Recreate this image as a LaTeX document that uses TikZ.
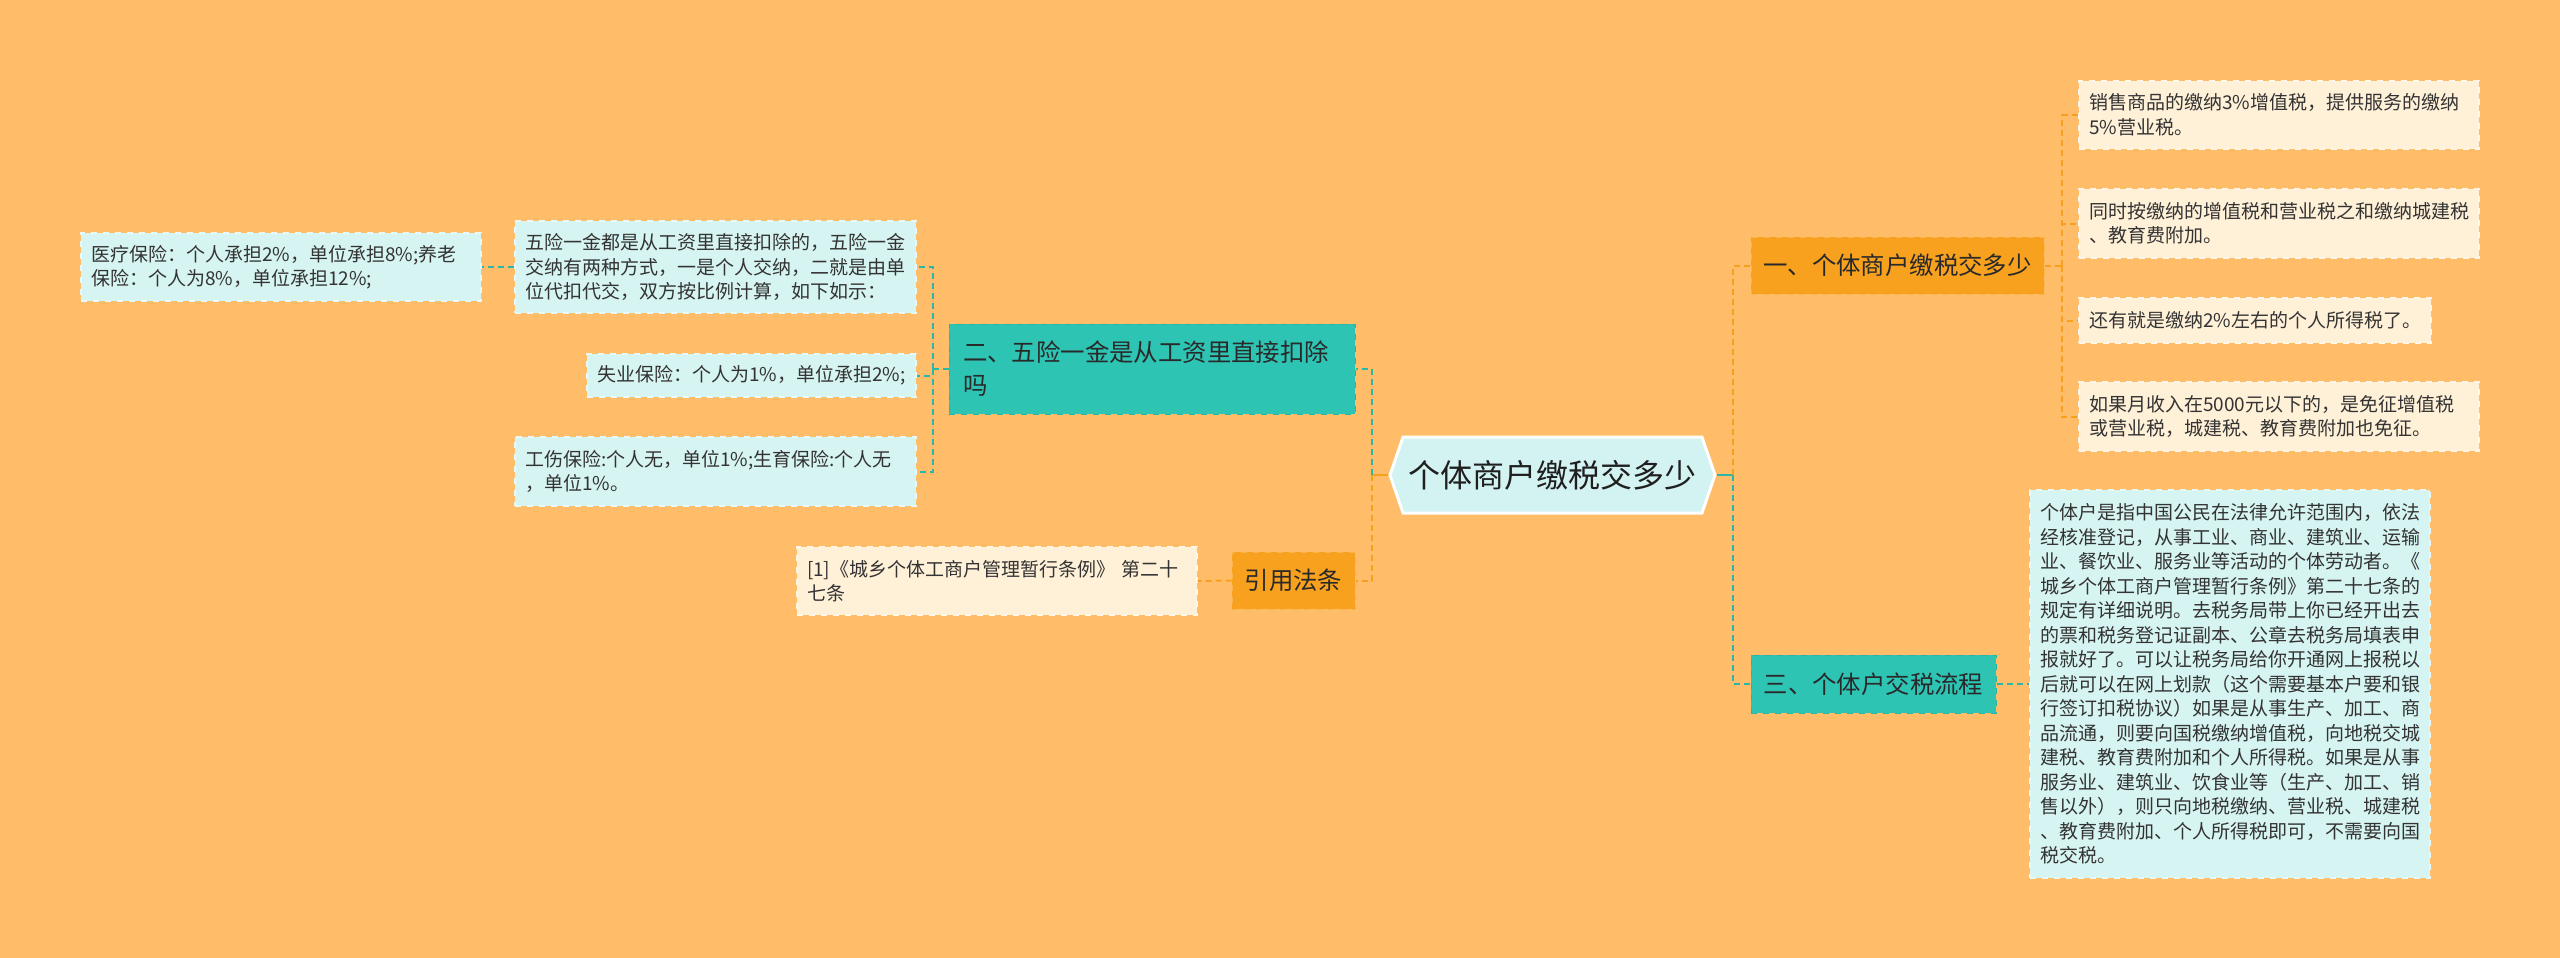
\documentclass[tikz,border=0pt]{standalone}
\usepackage{fontspec}
\setmainfont{Noto Sans CJK SC}
\usetikzlibrary{shapes.symbols}

\definecolor{bgc}{HTML}{FFBD69}
\definecolor{orc}{HTML}{F8A11E}
\definecolor{tealc}{HTML}{2EC4B4}
\definecolor{cyanc}{HTML}{D6F4F1}
\definecolor{creamc}{HTML}{FFF0D8}
\definecolor{hubc}{HTML}{D3F2F2}
\definecolor{oline}{HTML}{F5A11F}
\definecolor{tline}{HTML}{2BB7A7}
\definecolor{txt}{HTML}{333333}

\tikzset{
  leafbase/.style={inner xsep=5pt, inner ysep=0pt, align=left, text=txt,
    dashed, line width=0.6pt, font=\fontsize{9.5pt}{12.25pt}\selectfont},
  cyanleaf/.style={leafbase, fill=cyanc, draw=white!40!cyanc},
  creamleaf/.style={leafbase, fill=creamc, draw=white!40!creamc},
  branchbase/.style={inner xsep=6pt, inner ysep=0pt, text=txt!80!black,
    dashed, line width=0.5pt, font=\fontsize{12.2pt}{16.5pt}\selectfont},
  tealbranch/.style={branchbase, fill=tealc, draw=tealc!92!black},
  orangebranch/.style={branchbase, fill=orc, draw=white!20!orc},
  hubnode/.style={shape=signal, signal to=west and east, signal pointer angle=142,
    fill=hubc, draw=white, line width=1.5pt, inner sep=0pt,
    minimum width=162.5pt, minimum height=38pt, text=txt!60!black,
    font=\fontsize{16pt}{16pt}\selectfont},
  tdash/.style={draw=tline, line width=1pt, dash pattern=on 3pt off 2pt},
  odash/.style={draw=oline, line width=1pt, dash pattern=on 3pt off 2pt},
  tsolid/.style={draw=tline, line width=1.2pt},
  osolid/.style={draw=oline, line width=1.2pt}
}

\begin{document}
\begin{tikzpicture}[x=0.5pt, y=-0.5pt]
  % 背景
  \useasboundingbox (0,0) rectangle (2560,958);
  \fill[bgc] (0,0) rectangle (2560,958);

  % 中心主题
  \node[hubnode] (hub) at (1552.5,475) {个体商户缴税交多少};

  % 一级分支
  \node[orangebranch, minimum width=146.5pt, minimum height=28.5pt] (b1) at (1897.5,265.5) {一、个体商户缴税交多少};
  \node[tealbranch, minimum width=122.5pt, minimum height=29pt] (b3) at (1873.5,684) {三、个体户交税流程};
  \node[tealbranch, inner xsep=7pt, text width=189pt, align=left, minimum height=45pt] (b2) at (1152,369) {二、五险一金是从工资里直接扣除\\吗};
  \node[orangebranch, minimum width=61.5pt, minimum height=28.5pt] (b4) at (1293.5,580.5) {引用法条};

  % 一 的内容
  \node[creamleaf, text width=190pt, minimum height=34pt] (l1) at (2279,115) {销售商品的缴纳3\%增值税，提供服务的缴纳\\5\%营业税。};
  \node[creamleaf, text width=190pt, minimum height=34.5pt] (l2) at (2279,223.5) {同时按缴纳的增值税和营业税之和缴纳城建税\\、教育费附加。};
  \node[creamleaf, text width=166pt, minimum height=22.5pt] (l3) at (2255,320.5) {还有就是缴纳2\%左右的个人所得税了。};
  \node[creamleaf, text width=190pt, minimum height=34.5pt] (l4) at (2279,416.5) {如果月收入在5000元以下的，是免征增值税\\或营业税，城建税、教育费附加也免征。};

  % 三 的内容
  \node[cyanleaf, text width=190pt, minimum height=194pt] (l5) at (2230,684) {个体户是指中国公民在法律允许范围内，依法\\经核准登记，从事工业、商业、建筑业、运输\\业、餐饮业、服务业等活动的个体劳动者。《\\城乡个体工商户管理暂行条例》第二十七条的\\规定有详细说明。去税务局带上你已经开出去\\的票和税务登记证副本、公章去税务局填表申\\报就好了。可以让税务局给你开通网上报税以\\后就可以在网上划款（这个需要基本户要和银\\行签订扣税协议）如果是从事生产、加工、商\\品流通，则要向国税缴纳增值税，向地税交城\\建税、教育费附加和个人所得税。如果是从事\\服务业、建筑业、饮食业等（生产、加工、销\\售以外），则只向地税缴纳、营业税、城建税\\、教育费附加、个人所得税即可，不需要向国\\税交税。};

  % 二 的内容
  \node[cyanleaf, text width=190.5pt, minimum height=46pt] (lB) at (715.5,267) {五险一金都是从工资里直接扣除的，五险一金\\交纳有两种方式，一是个人交纳，二就是由单\\位代扣代交，双方按比例计算，如下如示：};
  \node[cyanleaf, text width=190pt, minimum height=34pt] (lA) at (281,267) {医疗保险：个人承担2\%，单位承担8\%;养老\\保险：个人为8\%，单位承担12\%;};
  \node[cyanleaf, text width=154.5pt, minimum height=21.5pt] (lC) at (751.5,375.5) {失业保险：个人为1\%，单位承担2\%;};
  \node[cyanleaf, text width=190.5pt, minimum height=34.5pt] (lD) at (715.5,471.5) {工伤保险:个人无，单位1\%;生育保险:个人无\\，单位1\%。};

  % 引用法条 的内容
  \node[creamleaf, text width=190pt, minimum height=34pt] (l6) at (997,581) {[1]《城乡个体工商户管理暂行条例》 第二十\\七条};

  % 中心到一级分支
  \coordinate (jr) at (1733,475);
  \coordinate (jl) at (1372,475);
  \draw[tsolid] (hub.east) -- (jr);
  \draw[odash] (jr) |- (b1.west);
  \draw[tdash] (jr) |- (b3.west);
  \draw[osolid] (hub.west) -- (jl);
  \draw[tdash] (jl) |- (b2.east);
  \draw[odash] (jl) |- (b4.east);

  % 一级分支到内容
  \coordinate (j1) at (2062,265.5);
  \draw[odash] (b1.east) -- (j1);
  \foreach \n in {l1,l2,l3,l4}
    \draw[odash] (j1) |- (\n.west);
  \draw[tdash] (b3.east) -- (l5.west);
  \coordinate (j2) at (933,369);
  \draw[tdash] (b2.west) -- (j2);
  \foreach \n in {lB,lC,lD}
    \draw[tdash] (j2) |- (\n.east);
  \draw[tdash] (lB.west) -- (lA.east);
  \draw[odash] (b4.west) -- (l6.east);
\end{tikzpicture}
\end{document}
